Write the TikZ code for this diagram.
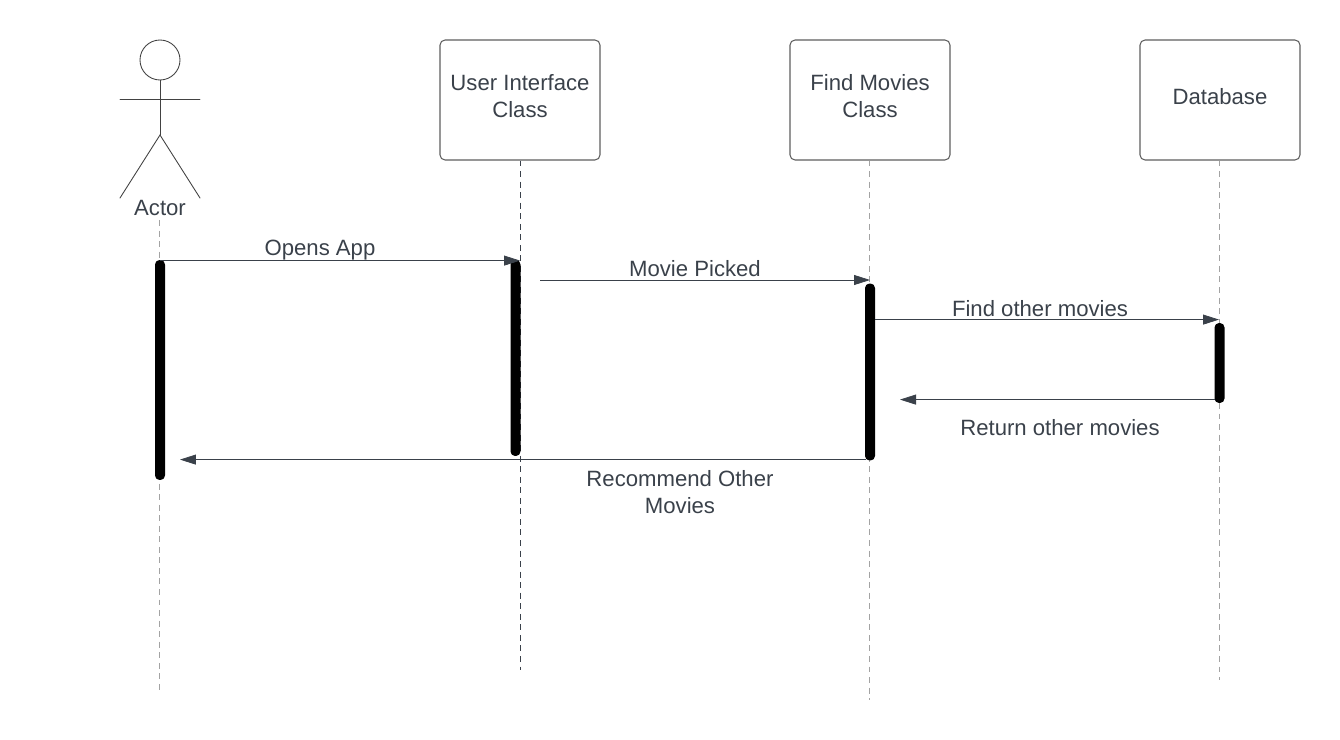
\documentclass[tikz,border=0pt]{standalone}
\usepackage{fontspec}
\usepackage{xcolor}
\setmainfont{Liberation Sans}
\usetikzlibrary{
    arrows.meta,
    positioning
}
\definecolor{inkcol}{HTML}{3A414A}
\definecolor{edgecol}{HTML}{5E5E5E}
\definecolor{lifecol}{HTML}{A3A3A3}
\tikzset{
    msglabel/.style={text=inkcol, inner sep=0pt, align=center, font=\fontsize{12.6}{15.3}\selectfont},
    classbox/.style={draw=edgecol, line width=0.6pt, rounded corners=0.1cm, minimum width=3.2cm, minimum height=2.4cm, inner sep=0pt},
    boxtext/.style={msglabel, yshift=2pt},
    lifeline/.style={draw=lifecol, line width=0.6pt, dash pattern=on 3.4pt off 2.6pt},
    bar/.style={fill=black, rounded corners=0.09cm, minimum width=0.2cm, inner sep=0pt},
    message/.style={draw=inkcol, line width=0.45pt, -{Triangle[length=0.32cm, width=0.2cm]}},
    limb/.style={draw=edgecol!70!black, line width=0.5pt, line cap=round}
}
\begin{document}
\begin{tikzpicture}[x=0.02cm, y=-0.02cm]
    \useasboundingbox (0, 0) rectangle (1340, 740);
    % actor
    \node[circle, draw=edgecol!70!black, line width=0.5pt, minimum size=0.8cm, inner sep=0pt] (head) at (160, 60) {};
    \coordinate (hip) at (160, 135);
    \coordinate (armL) at (120, 99);
    \coordinate (armR) at (200, 99);
    \coordinate (footL) at (120, 198);
    \coordinate (footR) at (200, 198);
    \draw[limb] (head.south) -- (hip);
    \draw[limb] (armL) -- (armR);
    \draw[limb] (footL) -- (hip) -- (footR);
    \node[msglabel] (actor) at (160, 208.4) {Actor};
    % classes
    \node[classbox, label={[boxtext]center:{User Interface\\Class}}] (ui) at (520, 100) {};
    \node[classbox, label={[boxtext]center:{Find Movies\\Class}}] (find) at (870, 100) {};
    \node[classbox, label={[boxtext]center:Database}] (db) at (1220, 100) {};
    % lifelines
    \coordinate (actorTop) at (159.7, 220);
    \coordinate (actorEnd) at (159.7, 690);
    \coordinate (uiEnd) at (520, 670);
    \coordinate (findEnd) at (869.7, 700);
    \coordinate (dbEnd) at (1219.7, 680);
    \draw[lifeline] (actorTop) -- (actorEnd);
    \draw[lifeline, draw=inkcol, line width=0.4pt] (ui.south) -- (uiEnd);
    \draw[lifeline] (findEnd |- find.south) -- (findEnd);
    \draw[lifeline] (dbEnd |- db.south) -- (dbEnd);
    % activation bars
    \node[bar, minimum height=4.4cm] (actorBar) at (160, 370) {};
    \node[bar, minimum height=3.92cm] (uiBar) at (515.5, 358) {};
    \node[bar, minimum height=3.54cm] (findBar) at (870, 372) {};
    \node[bar, minimum height=1.6cm] (dbBar) at (1219.5, 363) {};
    % messages
    \coordinate (openS) at (160, 260.6);
    \coordinate (openE) at (520, 260.6);
    \coordinate (pickS) at (540, 280);
    \coordinate (pickE) at (870, 280);
    \coordinate (otherS) at (875, 319.6);
    \coordinate (otherE) at (1219, 319.6);
    \coordinate (backS) at (1215, 399.6);
    \coordinate (backE) at (900, 399.6);
    \coordinate (recS) at (866, 459.6);
    \coordinate (recE) at (180, 459.6);
    \draw[message] (openS) -- (openE);
    \draw[message] (pickS) -- (pickE);
    \draw[message] (otherS) -- (otherE);
    \draw[message] (backS) -- (backE);
    \draw[message] (recS) -- (recE);
    \node[msglabel] (openLabel) at (320, 250) {Opens App};
    \node[msglabel] (pickLabel) at (695, 268.2) {Movie Picked};
    \node[msglabel] (otherLabel) at (1040, 309) {Find other movies};
    \node[msglabel] (backLabel) at (1060, 428) {Return other movies};
    \node[msglabel] (recLabel) at (680, 492) {Recommend Other\\Movies};
\end{tikzpicture}
\end{document}
